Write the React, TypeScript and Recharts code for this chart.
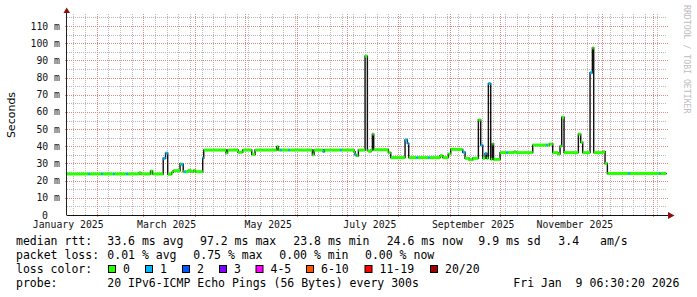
import { ComposedChart, Line, Scatter, XAxis, YAxis } from "recharts";

// median rtt over the last 360 days, as a step series.
// days = days since 2025-01-01 where the value changes, rtt in ms, loss = lost pings of 20
const days = [
  13.3, 25.9, 26.8, 34.0, 34.9, 40.9, 41.8, 49.0, 49.9, 56.5, 57.7, 63.4, 64.6,
  71.0, 72.4, 73.7, 76.0, 77.0, 81.1, 81.7, 83.0, 83.9, 84.7, 85.9, 87.7, 89.2,
  90.4, 94.7, 95.3, 108.7, 109.6, 115.9, 118.7, 124.1, 126.1, 139.1, 140.1,
  141.1, 142.0, 145.9, 146.8, 160.5, 161.5, 166.9, 167.8, 177.1, 178.0, 185.5,
  186.1, 187.0, 188.1, 192.1, 193.5, 194.5, 195.7, 196.5, 197.3, 206.1, 207.5,
  216.1, 217.5, 218.3, 223.0, 223.9, 229.9, 230.8, 237.1, 238.7, 242.1, 243.5,
  250.7, 252.1, 254.5, 256.7, 260.1, 261.5, 262.7, 264.1, 265.1, 266.1, 267.5,
  268.5, 269.2, 273.1, 277.0, 277.9, 281.5, 282.7, 292.7, 300.7, 301.6, 302.7,
  304.7, 307.9, 309.1, 310.1, 311.5, 320.1, 321.5, 322.7, 327.1, 328.5, 329.3,
  334.9, 336.1, 337.5, 349.9, 350.8, 368.5, 369.4, 372.7,
];
const rtt = [
  23.9, 23.9, 23.9, 23.9, 23.9, 23.9, 23.9, 23.9, 23.9, 24.6, 23.9, 25.6, 23.9,
  33.0, 36.0, 23.7, 24.8, 25.8, 29.8, 29.5, 25.2, 25.2, 25.2, 25.9, 25.2, 25.9,
  25.2, 33.0, 37.8, 36.0, 37.8, 36.5, 37.8, 35.3, 37.8, 39.8, 37.8,
  37.8, 37.8, 37.8, 37.8, 35.0, 37.8, 37.0, 37.8, 37.8, 37.8, 36.8,
  35.0, 34.5, 37.8, 92.5, 37.5, 37.0, 37.8, 47.1, 38.0, 36.3, 33.4,
  43.7, 41.7, 33.4, 33.4, 33.4, 33.4, 33.4, 34.5, 33.4, 35.5, 38.2,
  36.5, 33.0, 32.2, 33.0, 55.3, 40.7, 33.0, 35.9, 33.0, 76.5, 32.4,
  41.3, 32.4, 36.3, 36.3, 36.3, 36.8, 36.3, 40.7, 40.7, 40.7, 41.3,
  36.3, 35.5, 40.0, 56.9, 36.3, 47.1, 42.3, 36.3, 82.8, 97.2, 36.3,
  36.8, 30.0, 24.2, 24.2, 24.2, 24.2, 24.2, 24.6,
];
const loss = [
  0, 1, 0, 1, 0, 1, 0, 1, 0, 0, 0, 0, 0,
  1, 1, 0, 0, 0, 0, 1, 0, 1, 0, 0, 0, 0,
  0, 1, 0, 0, 0, 0, 0, 0, 0, 0, 0,
  1, 0, 1, 0, 0, 0, 1, 0, 1, 0, 0,
  1, 0, 0, 0, 0, 0, 0, 0, 0, 0, 0,
  1, 1, 0, 1, 0, 1, 0, 0, 0, 0, 0,
  1, 0, 0, 0, 0, 1, 0, 1, 0, 1, 0,
  0, 0, 0, 1, 0, 0, 0, 0, 1, 0, 0,
  0, 0, 0, 0, 0, 0, 0, 0, 1, 0, 0,
  0, 0, 0, 1, 0, 1, 0, 0,
];

const xTicks = [14, 73, 134, 195, 257, 318];
const xTickLabels = ["January 2025", "March 2025", "May 2025", "July 2025", "September 2025", "November 2025"];
const yTicks = [0, 10, 20, 30, 40, 50, 60, 70, 80, 90, 100, 110];
const yMinor = [5, 15, 25, 35, 45, 55, 65, 75, 85, 95, 105, 115];
const monthStarts = [31, 59, 90, 120, 151, 181, 212, 243, 273, 304, 334, 365];
const weekLines: number[] = [];
for (let d = 17; d < 373; d += 7) weekLines.push(d);

const lossLabels = ["0", "1", "2", "3", "4-5", "6-10", "11-19", "20/20"];
const lossColors = ["#26ff00", "#00b8ff", "#0059ff", "#7e00ff", "#ff00ff", "#ff5500", "#ff0000", "#a10000"];

const rttStats = ["33.6 ms avg", "97.2 ms max", "23.8 ms min", "24.6 ms now", "9.9 ms sd", "3.4", "am/s"];
const lossStats = ["0.01 % avg", "0.75 % max", "0.00 % min", "0.00 % now"];
const probeText = "20 IPv6-ICMP Echo Pings (56 Bytes) every 300s";
const stampText = "Fri Jan  9 06:30:20 2026";

// plot frame (matches the chart margins below)
const X_MIN = 13.27;
const X_MAX = 373.27;
const Y_MAX = 117;
const PLOT_L = 67;
const PLOT_T = 14;
const PLOT_W = 600;
const PLOT_H = 201;
const PX_PER_DAY = PLOT_W / (X_MAX - X_MIN);

const data = days.map((d, i) => ({
  day: d,
  rtt: rtt[i],
  loss: loss[i],
  end: i < days.length - 1 ? days[i + 1] : d,
}));

function lossColor(n: number) {
  if (n <= 3) return lossColors[n];
  if (n <= 5) return lossColors[4];
  if (n <= 10) return lossColors[5];
  if (n <= 19) return lossColors[6];
  return lossColors[7];
}

const mono = "DejaVu Sans Mono";
const GRID = "#b8b8b8";
const MGRID = "#e08888";

const gx = (d: number) => Math.round(PLOT_L + (d - X_MIN) * PX_PER_DAY) + 0.5;
const gy = (v: number) => Math.round(PLOT_T + PLOT_H - (v / Y_MAX) * PLOT_H) + 0.5;

function MedianSeg(props: any) {
  const { cx, cy, payload } = props;
  const w = (payload.end - payload.day) * PX_PER_DAY;
  if (!w) return <g />;
  return <rect x={cx} y={cy - 1.5} width={w} height={3} fill={lossColor(payload.loss)} />;
}

function YTick(props: any) {
  const { x, y, payload } = props;
  const v = payload.value;
  return (
    <text x={v === 0 ? x - 12 : x} y={y} dy={3.5} textAnchor="end" fontFamily={mono} fontSize={9.8} fill="#111">
      {v === 0 ? "0" : `${v} m`}
    </text>
  );
}

function XTick(props: any) {
  const { x, y, payload } = props;
  const i = xTicks.indexOf(payload.value);
  return (
    <text x={x} y={y} dy={13} textAnchor="middle" fontFamily={mono} fontSize={9.8} fill="#111">
      {xTickLabels[i]}
    </text>
  );
}

const rttX = [107.3, 200, 293.3, 386.7, 478.3, 558.3, 600];
const lossX = [107.3, 193.3, 279.3, 365];
const boxX = [108.5, 145.5, 182.5, 219.5, 256, 306.5, 365, 430.5];

export default function App() {
  const txt = { fontFamily: mono, fontSize: 11.5, fill: "#000", whiteSpace: "pre" as const };
  const top = PLOT_T;
  const bottom = PLOT_T + PLOT_H;
  const right = PLOT_L + PLOT_W;
  return (
    <div style={{ position: "absolute", left: 0, top: 0, width: 697, height: 297, background: "#fff" }}>
      <svg width={697} height={297} style={{ position: "absolute", left: 0, top: 0 }}>
        {yMinor.map((v) => (
          <line key={`hm${v}`} x1={PLOT_L} x2={right} y1={gy(v)} y2={gy(v)} stroke={GRID} strokeDasharray="1 1" />
        ))}
        {weekLines.map((d) => (
          <line key={`vm${d}`} x1={gx(d)} x2={gx(d)} y1={top} y2={bottom} stroke={GRID} strokeDasharray="1 1" />
        ))}
        {yTicks.slice(1).map((v) => (
          <line key={`hM${v}`} x1={PLOT_L - 2} x2={right + 2} y1={gy(v)} y2={gy(v)} stroke={MGRID} strokeDasharray="1 1" />
        ))}
        {monthStarts.map((d) => (
          <line key={`vM${d}`} x1={gx(d)} x2={gx(d)} y1={top} y2={bottom + 2} stroke={MGRID} strokeDasharray="1 1" />
        ))}
      </svg>
      <div style={{ position: "absolute", left: 0, top: 0 }}>
        <ComposedChart width={697} height={297} data={data} margin={{ top: 14, right: 30, bottom: 62, left: 0 }}>
          <XAxis
            dataKey="day"
            type="number"
            domain={[X_MIN, X_MAX]}
            allowDataOverflow
            ticks={xTicks}
            interval={0}
            tick={<XTick />}
            tickLine={false}
            axisLine={false}
            tickSize={0}
            tickMargin={0}
            height={20}
          />
          <YAxis
            type="number"
            domain={[0, Y_MAX]}
            allowDataOverflow
            ticks={yTicks}
            interval={0}
            tick={<YTick />}
            tickLine={false}
            axisLine={false}
            tickSize={0}
            tickMargin={7}
            width={67}
          />
          <Line
            dataKey="rtt"
            type="stepAfter"
            stroke="#111"
            strokeWidth={1.4}
            dot={false}
            isAnimationActive={false}
          />
          <Scatter dataKey="rtt" shape={<MedianSeg />} isAnimationActive={false} />
        </ComposedChart>
      </div>
      <svg width={697} height={297} style={{ position: "absolute", left: 0, top: 0, pointerEvents: "none" }}>
        <line x1={67} y1={215.5} x2={669} y2={215.5} stroke="#111" />
        <line x1={66.5} y1={215.5} x2={66.5} y2={12} stroke="#222" />
        <polygon points="63.5,13 70,13 66.7,7.5" fill="#8b1010" />
        <polygon points="668,212 668,219 674.5,215.5" fill="#8b1010" />
        <text transform="translate(15,115) rotate(-90)" textAnchor="middle" fontFamily="DejaVu Sans" fontSize={11} fill="#000">
          Seconds
        </text>
        <text transform="translate(684,5) rotate(90)" fontFamily={mono} fontSize={8.2} fill="#bdbdbd">
          RRDTOOL / TOBI OETIKER
        </text>

        <text x={16} y={244.5} style={txt}>median rtt:</text>
        {rttStats.map((s, i) => (
          <text key={s} x={rttX[i]} y={244.5} style={txt}>{s}</text>
        ))}
        <text x={16} y={258.5} style={txt}>packet loss:</text>
        {lossStats.map((s, i) => (
          <text key={s} x={lossX[i]} y={258.5} style={txt}>{s}</text>
        ))}
        <text x={16} y={272.5} style={txt}>loss color:</text>
        {lossLabels.map((s, i) => (
          <g key={s}>
            <rect x={boxX[i]} y={265.5} width={7} height={7} fill={lossColors[i]} stroke="#000" />
            <text x={boxX[i] + 14.5} y={272.5} style={txt}>{s}</text>
          </g>
        ))}
        <text x={16} y={286.5} style={txt}>probe:</text>
        <text x={107.3} y={286.5} style={txt}>{probeText}</text>
        <text x={513.3} y={286.5} style={txt}>{stampText}</text>
      </svg>
    </div>
  );
}
